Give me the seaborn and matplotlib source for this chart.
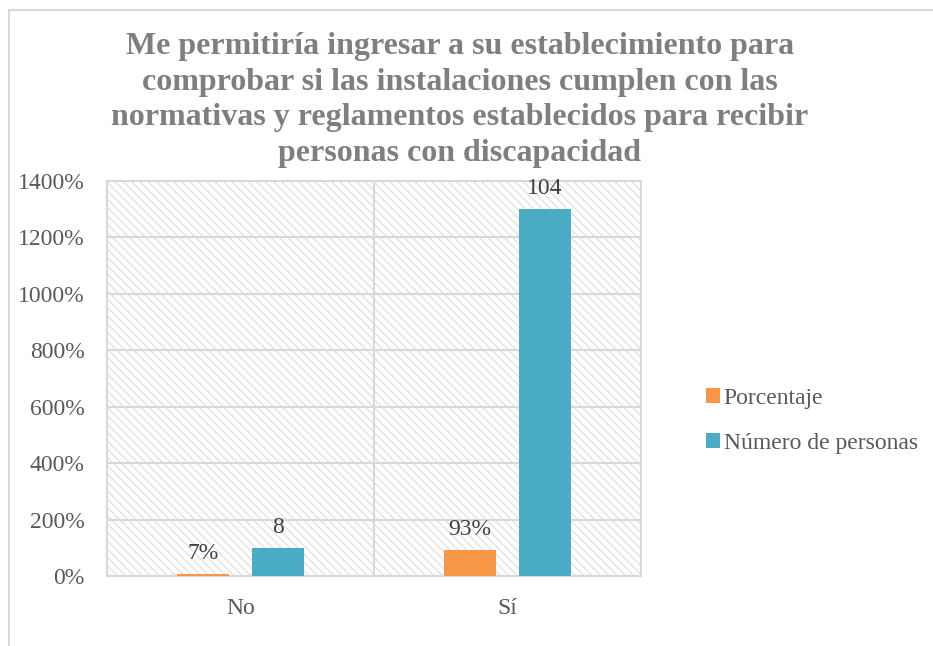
import pandas as pd
import matplotlib.pyplot as plt
import seaborn as sns
from matplotlib.patches import Rectangle
from matplotlib.ticker import PercentFormatter

# datos
categorias = ["No", "Sí"]
series = ["Porcentaje", "Número de personas"]
porcentaje = [0.07, 0.93]
porcentaje_txt = ["7%", "93%"]
personas_altura = [1.0, 13.0]
personas_txt = ["8", "104"]
colores = ["#F79646", "#4BACC6"]
titulo = ("Me permitiría ingresar a su establecimiento para\n"
          "comprobar si las instalaciones cumplen con las\n"
          "normativas y reglamentos establecidos para recibir\n"
          "personas con discapacidad")

df = pd.DataFrame({
    "categoria": categorias * 2,
    "serie": [series[0]] * 2 + [series[1]] * 2,
    "valor": porcentaje + personas_altura,
})

sns.set_style("white")
plt.rcParams["font.family"] = ["Liberation Serif", "DejaVu Serif"]
plt.rcParams["hatch.linewidth"] = 0.7
plt.rcParams["hatch.color"] = "#D9D9D9"

fig = plt.figure(figsize=(9.33, 6.46), dpi=100)
ax = fig.add_axes([107 / 933, 1 - 576 / 646, (641 - 107) / 933, (576 - 181) / 646])

# fondo rayado
ax.add_patch(Rectangle((0, 0), 1, 1, transform=ax.transAxes, facecolor="white",
                       edgecolor="#D9D9D9", hatch="\\" * 4, lw=0, zorder=0))

sns.barplot(data=df, x="categoria", y="valor", hue="serie", palette=colores,
            saturation=1, width=0.56, gap=0.31, linewidth=0, ax=ax, zorder=3)

ax.set_ylim(0, 14)
ax.set_yticks(range(0, 15, 2))
ax.yaxis.set_major_formatter(PercentFormatter(xmax=1, decimals=0))
ax.set_xlim(-0.5, 1.5)
ax.grid(axis="y", color="#D9D9D9", lw=1.5, zorder=1)
ax.axvline(0.5, color="#D9D9D9", lw=1.5, zorder=1)
ax.set_axisbelow(True)
for s in ax.spines.values():
    s.set_color("#D9D9D9")
    s.set_linewidth(1.5)
ax.set_xlabel("")
ax.set_ylabel("")
ax.tick_params(axis="both", length=0, labelsize=17, colors="#595959")
ax.tick_params(axis="x", pad=16)
ax.tick_params(axis="y", pad=16)

for cont, txt in zip(ax.containers, [porcentaje_txt, personas_txt]):
    ax.bar_label(cont, labels=txt, padding=7, fontsize=17, color="#404040")

ax.legend(loc="center left", bbox_to_anchor=(694 / 933, 1 - 421 / 646),
          bbox_transform=fig.transFigure, frameon=False, fontsize=17,
          labelcolor="#595959", handlelength=0.6, handleheight=0.6,
          handletextpad=0.15, labelspacing=1.0, borderpad=0)

fig.text(460 / 933, 1 - 32 / 646, titulo, ha="center", va="top", fontsize=23,
         fontweight="bold", color="#7F7F7F", linespacing=1.3)

fig.patches.append(Rectangle((9 / 933, -0.1), 1.1, 1 - 10 / 646 + 0.1,
                             transform=fig.transFigure, fill=False,
                             edgecolor="#D9D9D9", lw=1.5))

plt.savefig("out.png")
